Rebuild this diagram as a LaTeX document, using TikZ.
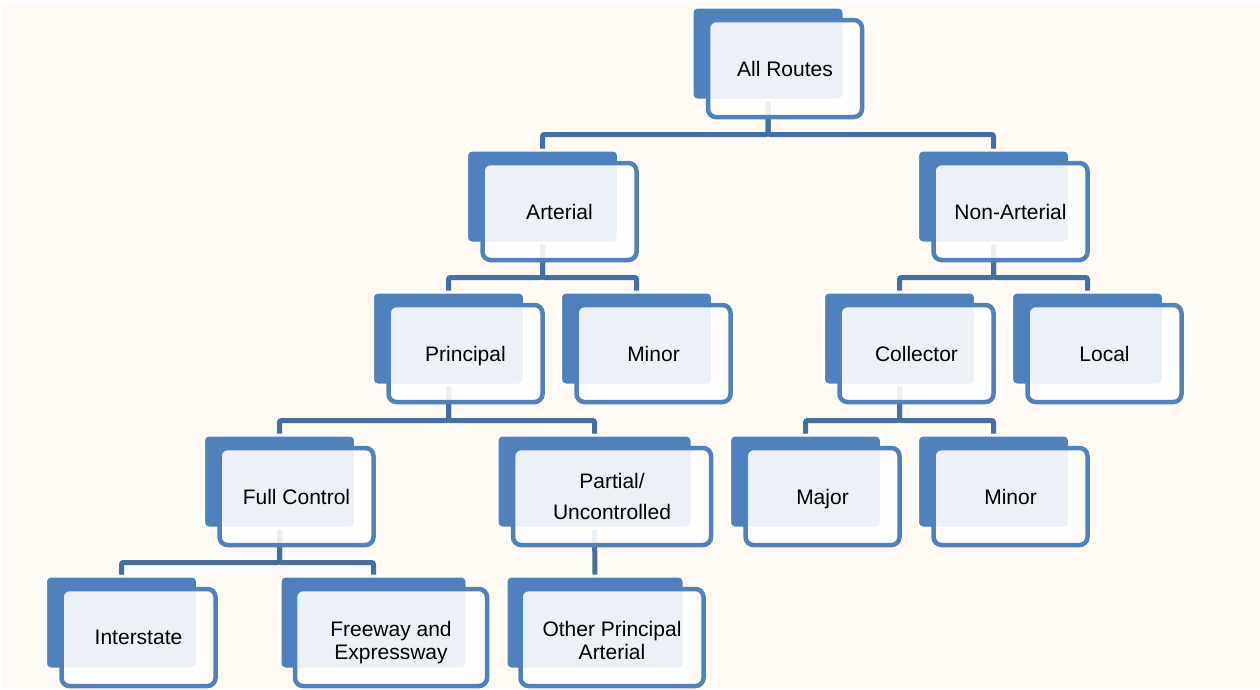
\documentclass[tikz,border=0pt]{standalone}
\usepackage{fontspec}
\setmainfont{Liberation Sans}
\definecolor{sfondo}{HTML}{FFFAF3}
\definecolor{blu}{HTML}{4F81BD}
\definecolor{blulinea}{HTML}{436FA2}
\begin{document}
\begin{tikzpicture}[x=1pt, y=-1pt,
    retro/.style={draw=white, line width=3pt, fill=blu, rounded corners=5pt,
        minimum width=152pt, minimum height=93pt, inner sep=0pt},
    fronte/.style={draw=blu, line width=4.5pt, fill=white, fill opacity=0.89,
        text opacity=1, rounded corners=8pt, minimum width=154pt,
        minimum height=97pt, inner sep=0pt, align=center, text depth=0pt,
        font=\fontsize{21}{23}\selectfont},
    linea/.style={draw=blulinea, line width=5pt, rounded corners=2pt}]

    % Sfondo
    \useasboundingbox (0,0) rectangle (1260,689);
    \fill[sfondo] (2,3) rectangle (1260,689);

    % Riquadri posteriori
    \node[retro] (all-b)    at (768,53.5)    {};
    \node[retro] (art-b)    at (542.5,196.5) {};
    \node[retro] (nonart-b) at (993.5,196.5) {};
    \node[retro] (prin-b)   at (448.5,338.5) {};
    \node[retro] (minA-b)   at (636.5,338.5) {};
    \node[retro] (coll-b)   at (899.5,338.5) {};
    \node[retro] (loc-b)    at (1087.5,338.5) {};
    \node[retro] (full-b)   at (279.5,481.5) {};
    \node[retro, minimum width=195pt] (part-b) at (594.5,481.5) {};
    \node[retro] (maj-b)    at (805.5,481.5) {};
    \node[retro] (minB-b)   at (993.5,481.5) {};
    \node[retro] (inter-b)  at (121.5,622.5) {};
    \node[retro, minimum width=187pt] (free-b)  at (373.5,622.5) {};
    \node[retro, minimum width=178pt] (other-b) at (595,622.5) {};

    % Collegamenti
    \draw[linea] (all-b.south) -- ++(0,33) -| (art-b.north);
    \draw[linea] (all-b.south) -- ++(0,33) -| (nonart-b.north);
    \draw[linea] (art-b.south) -- ++(0,33) -| (prin-b.north);
    \draw[linea] (art-b.south) -- ++(0,33) -| (minA-b.north);
    \draw[linea] (nonart-b.south) -- ++(0,33) -| (coll-b.north);
    \draw[linea] (nonart-b.south) -- ++(0,33) -| (loc-b.north);
    \draw[linea] (prin-b.south) -- ++(0,34) -| (full-b.north);
    \draw[linea] (prin-b.south) -- ++(0,34) -| (part-b.north);
    \draw[linea] (coll-b.south) -- ++(0,34) -| (maj-b.north);
    \draw[linea] (coll-b.south) -- ++(0,34) -| (minB-b.north);
    \draw[linea] (full-b.south) -- ++(0,33) -| (inter-b.north);
    \draw[linea] (full-b.south) -- ++(0,33) -| (free-b.north);
    \draw[linea] (part-b.south) -- (other-b.north);

    % Riquadri anteriori
    \node[fronte] (all)    at (785,68.5)     {All Routes};
    \node[fronte] (art)    at (559.5,211.5)  {Arterial};
    \node[fronte] (nonart) at (1010.5,211.5) {Non-Arterial};
    \node[fronte] (prin)   at (465.5,353.5)  {Principal};
    \node[fronte] (minA)   at (653.5,353.5)  {Minor};
    \node[fronte] (coll)   at (916.5,353.5)  {Collector};
    \node[fronte] (loc)    at (1104.5,353.5) {Local};
    \node[fronte] (full)   at (296.5,496.5)  {Full Control};
    \node[fronte, minimum width=198pt] (part) at (612,496.5) {Partial/\\[8pt]Uncontrolled};
    \node[fronte] (maj)    at (822.5,496.5)  {Major};
    \node[fronte] (minB)   at (1010.5,496.5) {Minor};
    \node[fronte] (inter)  at (138.5,637.5)  {Interstate};
    \node[fronte, minimum width=192pt, text height=44pt] (free)  at (391,637.5) {Freeway and\\Expressway};
    \node[fronte, minimum width=183pt, text height=44pt] (other) at (612,637.5) {Other Principal\\Arterial};

\end{tikzpicture}
\end{document}
